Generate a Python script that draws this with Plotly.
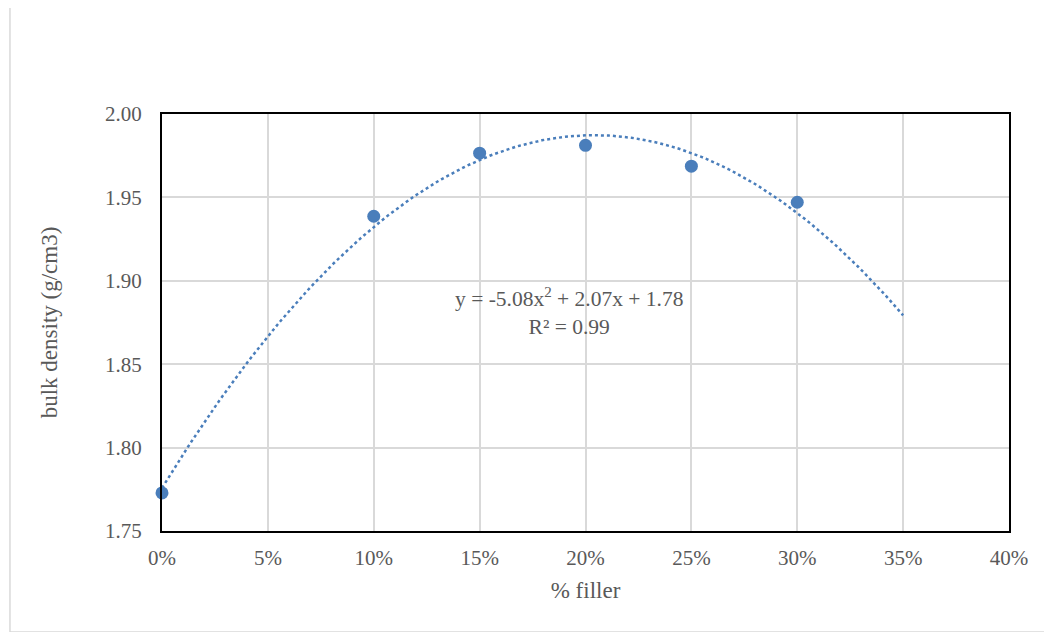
import numpy as np
import plotly.graph_objects as go

filler = [0.00, 0.10, 0.15, 0.20, 0.25, 0.30]
density = [1.7728, 1.9387, 1.9765, 1.9812, 1.9687, 1.9471]
x_ticks = [0.00, 0.05, 0.10, 0.15, 0.20, 0.25, 0.30, 0.35, 0.40]
x_tick_labels = ["0%", "5%", "10%", "15%", "20%", "25%", "30%", "35%", "40%"]
y_ticks = [1.75, 1.80, 1.85, 1.90, 1.95, 2.00]
y_tick_labels = ["1.75", "1.80", "1.85", "1.90", "1.95", "2.00"]
trend_label = "y = -5.08x<sup>2</sup> + 2.07x + 1.78<br>R² = 0.99"

coef = np.polyfit(filler, density, 2)
xt = np.linspace(0, 0.35, 200)
yt = np.polyval(coef, xt)

blue = "#4A7EBB"
fig = go.Figure()
fig.add_trace(go.Scatter(x=xt, y=yt, mode="lines",
                         line=dict(color=blue, width=2.5, dash="dot"),
                         hoverinfo="skip", showlegend=False))
fig.add_trace(go.Scatter(x=filler, y=density, mode="markers",
                         marker=dict(color=blue, size=13),
                         showlegend=False, cliponaxis=False))

font = "Liberation Serif, Times New Roman, serif"
fig.update_layout(
    width=1052, height=632,
    margin=dict(l=154, r=51, t=106, b=109),
    paper_bgcolor="white", plot_bgcolor="white",
    font=dict(family=font, color="#595959", size=21),
    xaxis=dict(range=[0, 0.40], tickvals=x_ticks, ticktext=x_tick_labels,
               showgrid=True, gridcolor="#D9D9D9", gridwidth=1.5,
               showline=True, linecolor="black", linewidth=2, mirror=True,
               zeroline=False, ticks="", ticklabelstandoff=7,
               title=dict(text="% filler", font=dict(size=23), standoff=13)),
    yaxis=dict(range=[1.75, 2.00], tickvals=y_ticks, ticktext=y_tick_labels,
               showgrid=True, gridcolor="#D9D9D9", gridwidth=1.5,
               showline=True, linecolor="black", linewidth=2, mirror=True,
               zeroline=False, ticks="", ticklabelstandoff=14,
               title=dict(text="bulk density (g/cm3)", font=dict(size=23), standoff=41)),
    annotations=[dict(x=0.192, y=1.8815, xref="x", yref="y", text=trend_label,
                      showarrow=False, font=dict(size=21.5, color="#595959"),
                      align="center")],
    shapes=[dict(type="rect", xref="paper", yref="paper",
                 x0=-0.1795, x1=1.2, y0=-0.2422, y1=1.2566,
                 line=dict(color="#D9D9D9", width=1.5), layer="below")],
)
fig.write_html("out.html")
